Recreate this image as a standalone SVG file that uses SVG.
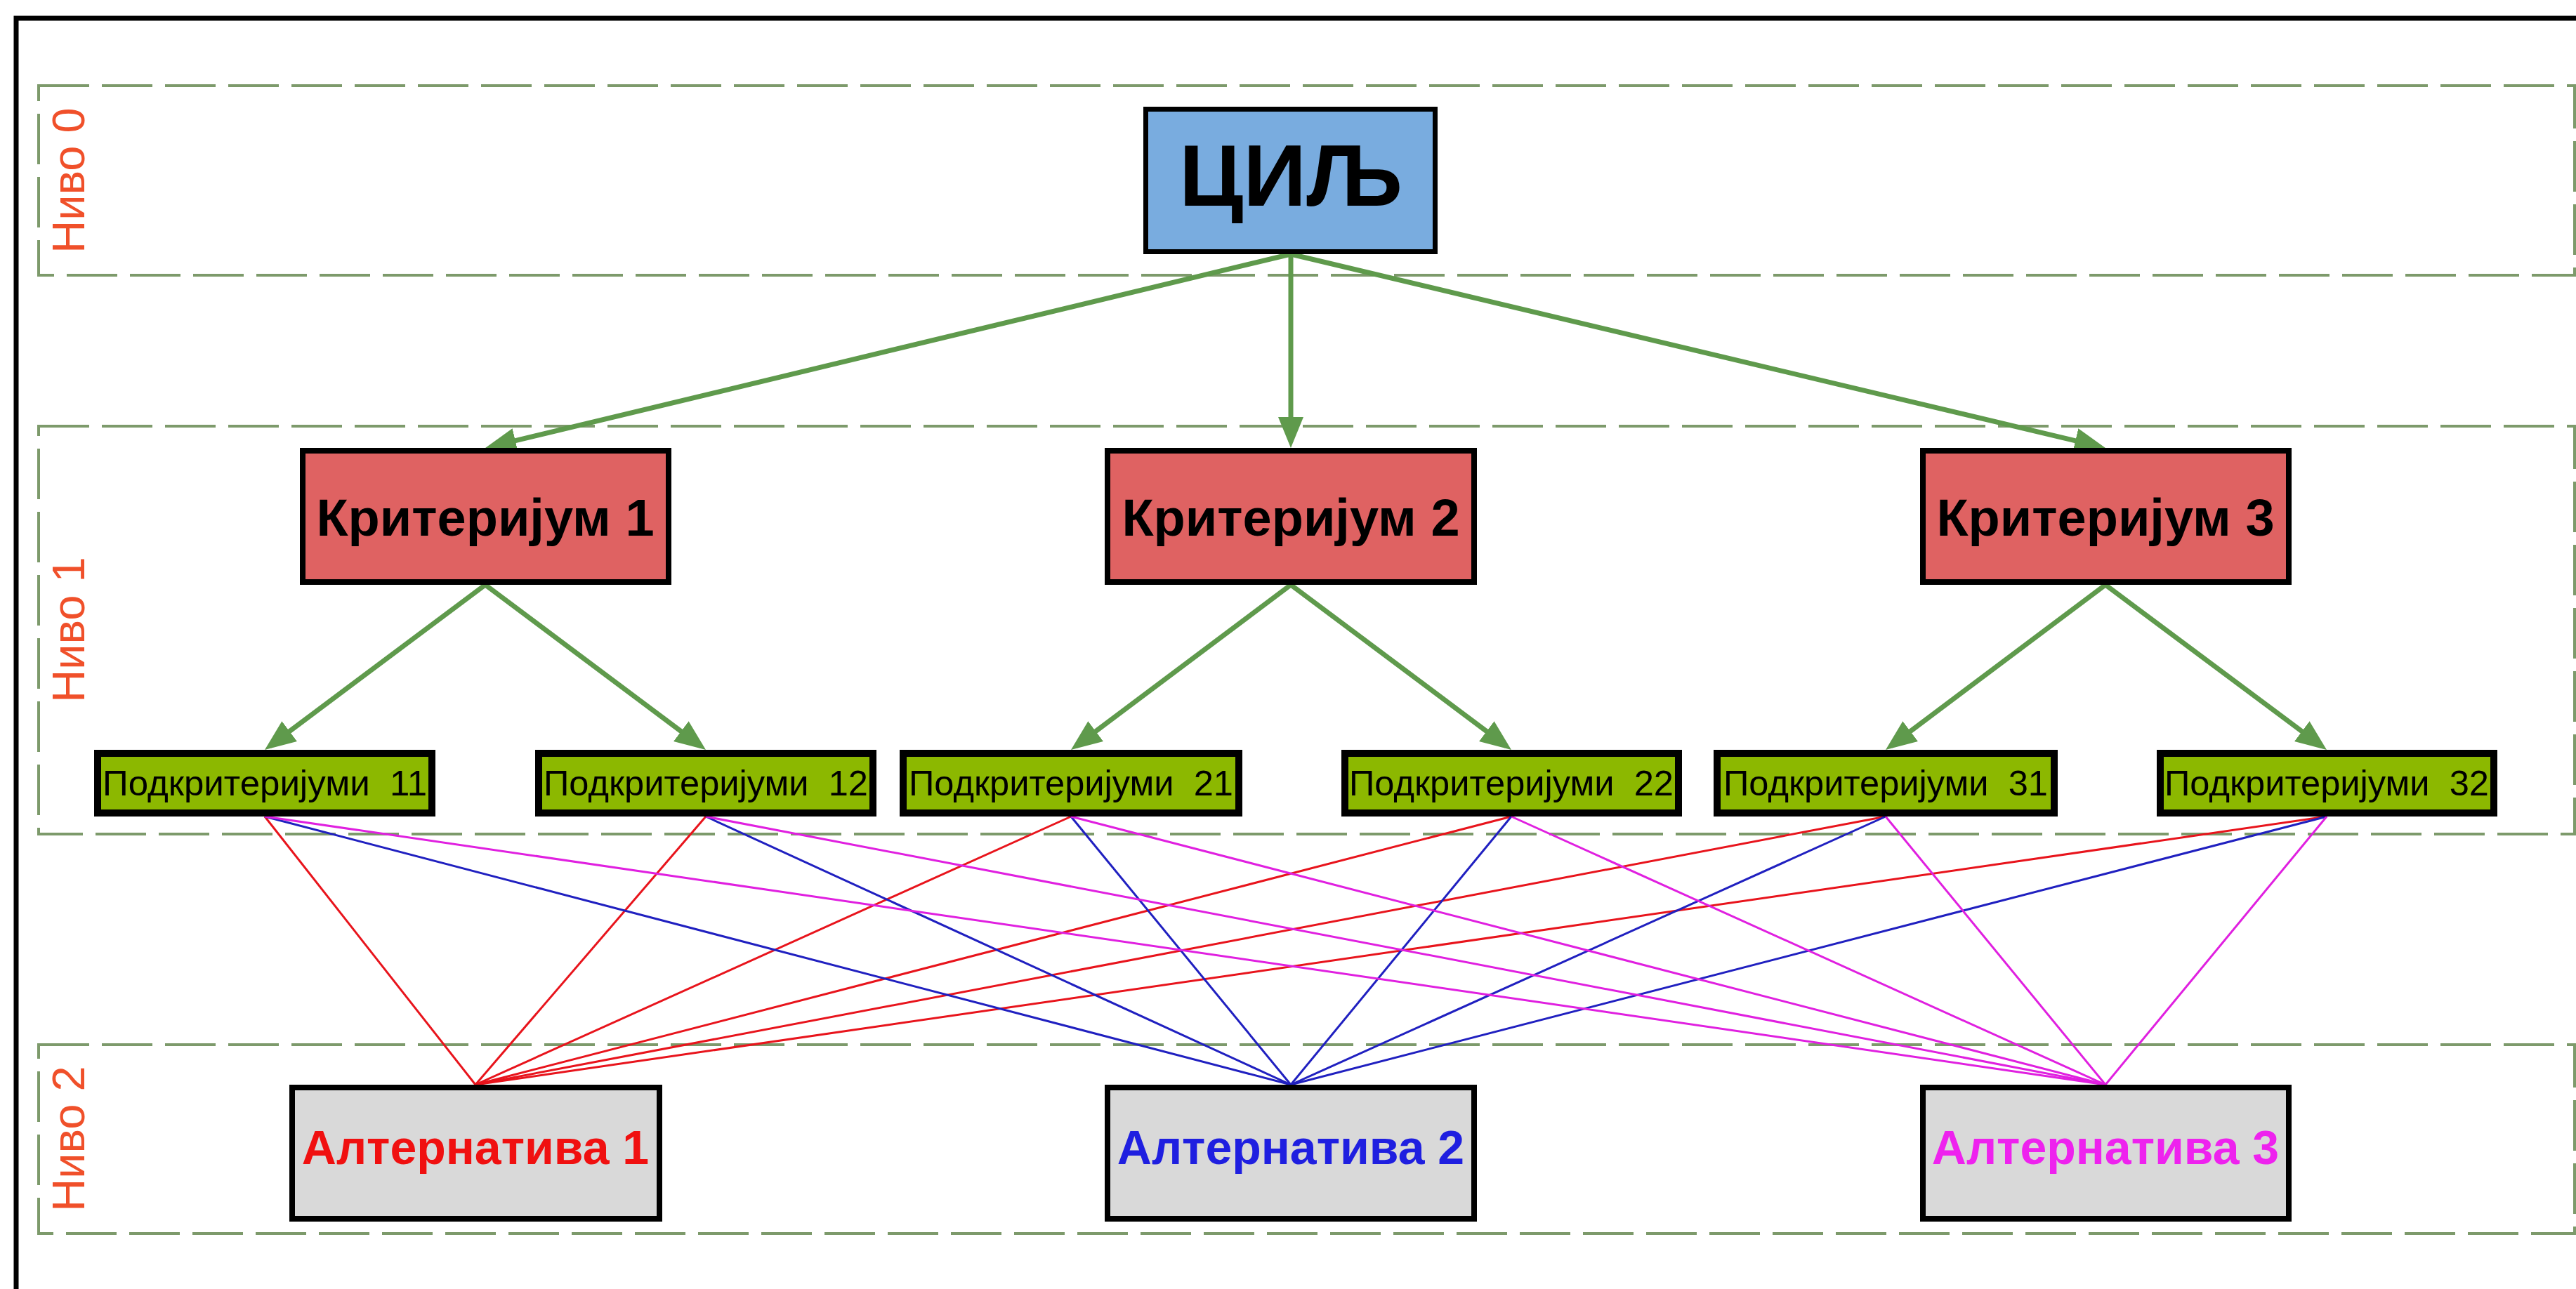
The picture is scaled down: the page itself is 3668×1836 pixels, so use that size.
<svg xmlns="http://www.w3.org/2000/svg" width="3668" height="1836" viewBox="0 0 3668 1836">
<defs>
<style>
.frame{fill:none;stroke:#000;stroke-width:7}
.level{fill:none;stroke:#7d9a6b;stroke-width:4;stroke-dasharray:72 18}
.lvl{font-family:"Liberation Sans",Arial,sans-serif;font-size:65px;fill:#f0502a;text-anchor:middle}
.goal{fill:#79acdf;stroke:#000;stroke-width:7}
.crit{fill:#df6262;stroke:#000;stroke-width:8}
.sub{fill:#8cb800;stroke:#000;stroke-width:10}
.alt{fill:#d9d9d9;stroke:#000;stroke-width:8}
.t{font-family:"Liberation Sans",Arial,sans-serif;text-anchor:middle}
.tg{font-size:125px;font-weight:bold;fill:#000}
.tc{font-size:74px;font-weight:bold;fill:#000}
.ts{font-size:50px;fill:#000}
.ta{font-size:68px;font-weight:bold}
.arr{stroke:#5f9a4c;stroke-width:7;fill:none;marker-end:url(#ah)}
.r{stroke:#e8141c;stroke-width:3}
.b{stroke:#2020c0;stroke-width:3}
.m{stroke:#e020e0;stroke-width:3}
</style>
<marker id="ah" markerUnits="userSpaceOnUse" markerWidth="44" markerHeight="36" refX="35" refY="18" orient="auto" viewBox="0 0 44 36">
<path d="M0,0 L44,18 L0,36 z" fill="#5f9a4c"/>
</marker>
</defs>
<rect width="3668" height="1836" fill="#fff"/>
<rect class="frame" x="23" y="26" width="3720" height="1900"/>
<g id="levels">
<rect class="level" x="55" y="122" width="3611" height="270"/>
<rect class="level" x="55" y="607" width="3611" height="581"/>
<rect class="level" x="55" y="1488" width="3611" height="269"/>
<text class="lvl" transform="translate(120,257) rotate(-90)">Ниво 0</text>
<text class="lvl" transform="translate(120,897) rotate(-90)">Ниво 1</text>
<text class="lvl" transform="translate(120,1622) rotate(-90)">Ниво 2</text>
</g>
<g id="connectors">
<line class="r" x1="377" y1="1163" x2="677" y2="1545"/>
<line class="r" x1="1005" y1="1163" x2="677" y2="1545"/>
<line class="r" x1="1525" y1="1163" x2="677" y2="1545"/>
<line class="r" x1="2152" y1="1163" x2="677" y2="1545"/>
<line class="r" x1="2685" y1="1163" x2="677" y2="1545"/>
<line class="r" x1="3313" y1="1163" x2="677" y2="1545"/>
<line class="b" x1="377" y1="1163" x2="1838" y2="1545"/>
<line class="b" x1="1005" y1="1163" x2="1838" y2="1545"/>
<line class="b" x1="1525" y1="1163" x2="1838" y2="1545"/>
<line class="b" x1="2152" y1="1163" x2="1838" y2="1545"/>
<line class="b" x1="2685" y1="1163" x2="1838" y2="1545"/>
<line class="b" x1="3313" y1="1163" x2="1838" y2="1545"/>
<line class="m" x1="377" y1="1163" x2="2998" y2="1545"/>
<line class="m" x1="1005" y1="1163" x2="2998" y2="1545"/>
<line class="m" x1="1525" y1="1163" x2="2998" y2="1545"/>
<line class="m" x1="2152" y1="1163" x2="2998" y2="1545"/>
<line class="m" x1="2685" y1="1163" x2="2998" y2="1545"/>
<line class="m" x1="3313" y1="1163" x2="2998" y2="1545"/>
<line class="arr" x1="1838" y1="362" x2="699.8" y2="635.9"/>
<line class="arr" x1="1838" y1="362" x2="1838" y2="629"/>
<line class="arr" x1="1838" y1="362" x2="2989.2" y2="635.9"/>
<line class="arr" x1="691" y1="833" x2="384.2" y2="1062.6"/>
<line class="arr" x1="691" y1="833" x2="997.8" y2="1062.6"/>
<line class="arr" x1="1838" y1="833" x2="1532.2" y2="1062.6"/>
<line class="arr" x1="1838" y1="833" x2="2144.8" y2="1062.6"/>
<line class="arr" x1="2998" y1="833" x2="2692.2" y2="1062.6"/>
<line class="arr" x1="2998" y1="833" x2="3305.8" y2="1062.6"/>
</g>
<g id="goal">
<rect class="goal" x="1631.5" y="155.5" width="412" height="203"/>
<text class="t tg" x="1838" y="293">ЦИЉ</text>
</g>
<g id="crit1">
<rect class="crit" x="431" y="642" width="521" height="187"/>
<text class="t tc" x="691" y="763">Критеријум 1</text>
</g>
<g id="crit2">
<rect class="crit" x="1577" y="642" width="522" height="187"/>
<text class="t tc" x="1838" y="763">Критеријум 2</text>
</g>
<g id="crit3">
<rect class="crit" x="2738" y="642" width="521" height="187"/>
<text class="t tc" x="2998" y="763">Критеријум 3</text>
</g>
<g id="sub11">
<rect class="sub" x="139" y="1073" width="476" height="85"/>
<text class="t ts" x="377" y="1133" textLength="462" lengthAdjust="spacingAndGlyphs">Подкритеријуми&#160; 11</text>
</g>
<g id="sub12">
<rect class="sub" x="767" y="1073" width="476" height="85"/>
<text class="t ts" x="1005" y="1133" textLength="462" lengthAdjust="spacingAndGlyphs">Подкритеријуми&#160; 12</text>
</g>
<g id="sub21">
<rect class="sub" x="1286" y="1073" width="478" height="85"/>
<text class="t ts" x="1525" y="1133" textLength="462" lengthAdjust="spacingAndGlyphs">Подкритеријуми&#160; 21</text>
</g>
<g id="sub22">
<rect class="sub" x="1915" y="1073" width="475" height="85"/>
<text class="t ts" x="2152" y="1133" textLength="462" lengthAdjust="spacingAndGlyphs">Подкритеријуми&#160; 22</text>
</g>
<g id="sub31">
<rect class="sub" x="2445" y="1073" width="480" height="85"/>
<text class="t ts" x="2685" y="1133" textLength="462" lengthAdjust="spacingAndGlyphs">Подкритеријуми&#160; 31</text>
</g>
<g id="sub32">
<rect class="sub" x="3076" y="1073" width="475" height="85"/>
<text class="t ts" x="3313" y="1133" textLength="462" lengthAdjust="spacingAndGlyphs">Подкритеријуми&#160; 32</text>
</g>
<g id="alt1">
<rect class="alt" x="416" y="1549" width="523" height="187"/>
<text class="t ta" x="677" y="1658" fill="#f01010">Алтернатива 1</text>
</g>
<g id="alt2">
<rect class="alt" x="1577" y="1549" width="522" height="187"/>
<text class="t ta" x="1838" y="1658" fill="#1f1fe0">Алтернатива 2</text>
</g>
<g id="alt3">
<rect class="alt" x="2738" y="1549" width="521" height="187"/>
<text class="t ta" x="2998" y="1658" fill="#ee22ee">Алтернатива 3</text>
</g>
</svg>
